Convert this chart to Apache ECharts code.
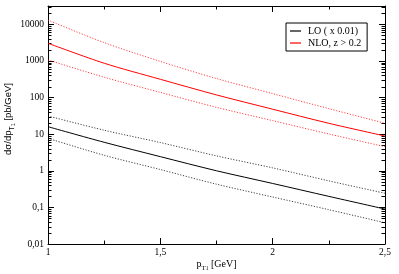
<!DOCTYPE html>
<html>
<head>
<meta charset="utf-8">
<script src="https://cdn.jsdelivr.net/npm/echarts@6/dist/echarts.min.js"></script>
<style>
html,body{margin:0;padding:0;background:#fff;}
#chart{width:399px;height:274px;}
</style>
</head>
<body>
<div id="chart"></div>
<script>
const pt = [1, 1.25, 1.5, 1.75, 2, 2.25, 2.5];
const nloCentral = [3040, 865, 315, 118, 48, 19.8, 8.9];
const nloUpper = [13000, 3160, 970, 330, 128, 49.8, 19.8];
const nloLower = [1065, 359, 138, 54, 23.4, 10.1, 4.56];
const loCentral = [16, 6.0, 2.43, 1.0, 0.45, 0.2, 0.09];
const loUpper = [31.4, 12.8, 5.9, 2.55, 1.2, 0.53, 0.243];
const loLower = [7.7, 2.65, 1.08, 0.43, 0.192, 0.0865, 0.038];
const xTickLabels = ['1', '1,5', '2', '2,5'];
const yTickLabels = ['0,01', '0,1', '1', '10', '100', '1000', '10000'];
const legendNames = ['LO ( x 0.01)', 'NLO, z > 0.2'];

const yMin = 0.01, yMax = 31622.8;
const minorVals = [];
for (let e = -2; e <= 4; e++) {
  for (let m = 2; m <= 9; m++) {
    const v = m * Math.pow(10, e);
    if (v < yMax) minorVals.push([1, v]);
  }
}

const serif = 'Liberation Serif, Times New Roman, serif';
const sans = 'Liberation Sans, Arial, sans-serif';
const zip = arr => pt.map((x, i) => [x, arr[i]]);

function ylab(v) {
  const l = Math.log10(v);
  if (Math.abs(l - Math.round(l)) > 1e-6) return '';
  const idx = Math.round(l) + 2;
  return yTickLabels[idx] || '';
}
function xlab(v) {
  const idx = Math.round((v - 1) / 0.5);
  if (Math.abs((v - 1) / 0.5 - idx) > 1e-6) return '';
  return xTickLabels[idx] || '';
}

const chart = echarts.init(document.getElementById('chart'), null, {renderer: 'canvas'});
const lineBase = {type: 'line', smooth: 0.3, showSymbol: false, symbol: 'none', animation: false, xAxisIndex: 0, yAxisIndex: 0};
const dotted = [1.2, 1.6];

chart.setOption({
  animation: false,
  backgroundColor: '#fff',
  grid: {left: 48, right: 14, top: 6, bottom: 30, containLabel: false, outerBoundsMode: 'none'},
  legend: {
    data: legendNames,
    orient: 'vertical',
    left: 286, top: 23,
    icon: 'rect',
    itemWidth: 11, itemHeight: 1.2,
    itemGap: 2,
    padding: [3, 6, 3, 4],
    borderColor: '#000', borderWidth: 1,
    textStyle: {fontFamily: serif, fontSize: 10, color: '#000', padding: [0, 0, 0, 2]}
  },
  xAxis: [{
    type: 'value', min: 1, max: 2.5, interval: 0.5, position: 'bottom',
    axisLine: {show: true, lineStyle: {color: '#000', width: 1}},
    axisTick: {show: true, inside: true, length: 6, lineStyle: {color: '#000'}},
    minorTick: {show: true, splitNumber: 2, length: 3.5, lineStyle: {color: '#000'}},
    splitLine: {show: false},
    axisLabel: {formatter: xlab, fontFamily: serif, fontSize: 9.5, color: '#000', margin: 3},
    name: '{a|p}{b|T}{c|1}{a| [GeV]}',
    nameLocation: 'middle', nameGap: 12, nameMoveOverlap: false,
    nameTextStyle: {
      rich: {
        a: {fontFamily: serif, fontSize: 10, color: '#000', lineHeight: 16, verticalAlign: 'middle'},
        b: {fontFamily: serif, fontSize: 7, color: '#000', lineHeight: 8, verticalAlign: 'bottom'},
        c: {fontFamily: serif, fontSize: 5.5, color: '#000', lineHeight: 1.5, verticalAlign: 'bottom'}
      }
    }
  }, {
    type: 'value', min: 1, max: 2.5, interval: 0.5, position: 'top',
    axisLine: {show: true, lineStyle: {color: '#000', width: 1}},
    axisTick: {show: true, inside: true, length: 6, lineStyle: {color: '#000'}},
    minorTick: {show: true, splitNumber: 2, length: 3.5, lineStyle: {color: '#000'}},
    splitLine: {show: false},
    axisLabel: {show: false}
  }],
  yAxis: [{
    type: 'log', logBase: 10, min: yMin, max: yMax, splitNumber: 7, position: 'left',
    axisLine: {show: true, lineStyle: {color: '#000', width: 1}},
    axisTick: {show: true, inside: true, length: 6, lineStyle: {color: '#000'}},
    splitLine: {show: false},
    axisLabel: {formatter: ylab, fontFamily: serif, fontSize: 9.5, color: '#000', margin: 4, showMaxLabel: false},
    name: '{g| }{a|dσ/dp}{b|T}{c|1}{a| [pb/GeV]}',
    nameLocation: 'middle', nameGap: 32, nameRotate: 90, nameMoveOverlap: false,
    nameTextStyle: {
      rich: {
        g: {fontFamily: sans, fontSize: 9.5, width: 12, lineHeight: 16, verticalAlign: 'middle'},
        a: {fontFamily: sans, fontSize: 9.5, color: '#000', lineHeight: 16, verticalAlign: 'middle'},
        b: {fontFamily: sans, fontSize: 7, color: '#000', lineHeight: 8, verticalAlign: 'bottom'},
        c: {fontFamily: sans, fontSize: 5.5, color: '#000', lineHeight: 1.5, verticalAlign: 'bottom'}
      }
    }
  }, {
    type: 'log', logBase: 10, min: yMin, max: yMax, splitNumber: 7, position: 'right',
    axisLine: {show: true, lineStyle: {color: '#000', width: 1}},
    axisTick: {show: true, inside: true, length: 6, lineStyle: {color: '#000'}},
    splitLine: {show: false},
    axisLabel: {show: false}
  }],
  series: [
    Object.assign({}, lineBase, {name: 'LO ( x 0.01)', data: zip(loCentral), color: '#000', lineStyle: {color: '#000', width: 1}}),
    Object.assign({}, lineBase, {name: 'LO upper', data: zip(loUpper), color: '#000', lineStyle: {color: '#000', width: 1, type: dotted, opacity: 0.75}}),
    Object.assign({}, lineBase, {name: 'LO lower', data: zip(loLower), color: '#000', lineStyle: {color: '#000', width: 1, type: dotted, opacity: 0.75}}),
    Object.assign({}, lineBase, {name: 'NLO, z > 0.2', data: zip(nloCentral), color: '#ff0000', lineStyle: {color: '#ff0000', width: 1}}),
    Object.assign({}, lineBase, {name: 'NLO upper', data: zip(nloUpper), color: '#ff0000', lineStyle: {color: '#ff0000', width: 1, type: dotted, opacity: 0.75}}),
    Object.assign({}, lineBase, {name: 'NLO lower', data: zip(nloLower), color: '#ff0000', lineStyle: {color: '#ff0000', width: 1, type: dotted, opacity: 0.75}}),
    {
      type: 'custom', name: 'minorTicks', silent: true, animation: false,
      xAxisIndex: 0, yAxisIndex: 0, clip: false,
      encode: {x: 0, y: 1},
      data: minorVals,
      renderItem: function (params, api) {
        const v = api.value(1);
        const pL = api.coord([1, v]);
        const pR = api.coord([2.5, v]);
        const y = Math.round(pL[1]) + 0.5;
        return {
          type: 'group',
          children: [
            {type: 'line', shape: {x1: pL[0], y1: y, x2: pL[0] + 3.5, y2: y}, style: {stroke: '#000', lineWidth: 1}},
            {type: 'line', shape: {x1: pR[0], y1: y, x2: pR[0] - 3.5, y2: y}, style: {stroke: '#000', lineWidth: 1}}
          ]
        };
      }
    }
  ]
});
</script>
</body>
</html>
